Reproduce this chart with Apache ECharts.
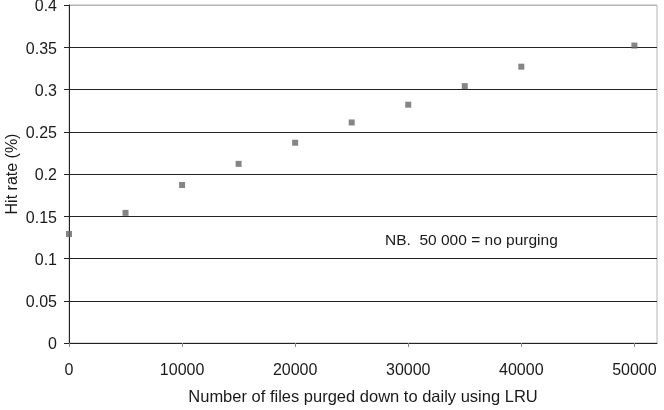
<!DOCTYPE html>
<html>
<head>
<meta charset="utf-8">
<script src="https://cdn.jsdelivr.net/npm/echarts@6/dist/echarts.min.js"></script>
<style>
  html, body { margin: 0; padding: 0; background: #fff; }
  #chart { width: 664px; height: 410px; }
</style>
</head>
<body>
<div id="chart"></div>
<script>
// files kept after purging (x) and the measured hit rate (y)
var filesKept = [0, 5000, 10000, 15000, 20000, 25000, 30000, 35000, 40000, 50000];
var hitRate = [0.129, 0.154, 0.187, 0.212, 0.237, 0.261, 0.282, 0.304, 0.327, 0.352];
var xTicks = [0, 10000, 20000, 30000, 40000, 50000];

var points = [];
for (let i = 0; i < filesKept.length; i++) {
    points.push([filesKept[i], hitRate[i]]);
}

var font = 'Liberation Sans, Arial, sans-serif';
var chart = echarts.init(document.getElementById('chart'));

var option = {
    backgroundColor: '#fff',
    animation: false,
    grid: {
        left: 69,
        right: 7,
        top: 5,
        bottom: 67,
        outerBoundsMode: 'none',
        containLabel: false,
        show: true,
        borderColor: '#b4b4b4',
        borderWidth: 1
    },
    xAxis: {
        type: 'value',
        min: 0,
        max: 52000,
        interval: 10000,
        name: 'Number of files purged down to daily using LRU',
        nameLocation: 'middle',
        nameGap: 46,
        nameMoveOverlap: false,
        nameTextStyle: { fontFamily: font, fontSize: 16.5, color: '#1a1a1a' },
        axisLine: { show: true, lineStyle: { color: '#222', width: 1 } },
        axisTick: {
            show: true,
            length: 4,
            customValues: xTicks,
            lineStyle: { color: '#888' }
        },
        axisLabel: {
            customValues: xTicks,
            margin: 20,
            fontFamily: font,
            fontSize: 16,
            color: '#1a1a1a',
            formatter: function (value) {
                return String(value);
            }
        },
        splitLine: { show: false }
    },
    yAxis: {
        type: 'value',
        min: 0,
        max: 0.4,
        interval: 0.05,
        name: 'Hit rate (%)',
        nameLocation: 'middle',
        nameGap: 48,
        nameMoveOverlap: false,
        nameTextStyle: { fontFamily: font, fontSize: 16, color: '#1a1a1a' },
        axisLine: { show: true, lineStyle: { color: '#222', width: 1 } },
        axisTick: { show: true, length: 5, lineStyle: { color: '#222' } },
        axisLabel: {
            margin: 12,
            fontFamily: font,
            fontSize: 16,
            color: '#1a1a1a',
            formatter: function (value) {
                return '{v|' + value + '}';
            },
            rich: {
                v: { fontFamily: font, fontSize: 16, color: '#1a1a1a', padding: [4, 0, 0, 0] }
            }
        },
        splitLine: {
            show: true,
            lineStyle: {
                color: ['#222', '#222', '#222', '#222', '#222', '#222', '#222', '#222', '#b4b4b4'],
                width: 1
            }
        }
    },
    graphic: [{
        type: 'text',
        left: 385,
        top: 233,
        style: {
            text: 'NB.  50 000 = no purging',
            fontFamily: font,
            fontSize: 15.5,
            fill: '#1a1a1a'
        }
    }],
    series: [{
        type: 'scatter',
        symbol: 'rect',
        symbolSize: 6,
        itemStyle: { color: '#666' },
        data: points
    }]
};

chart.setOption(option);
</script>
</body>
</html>
